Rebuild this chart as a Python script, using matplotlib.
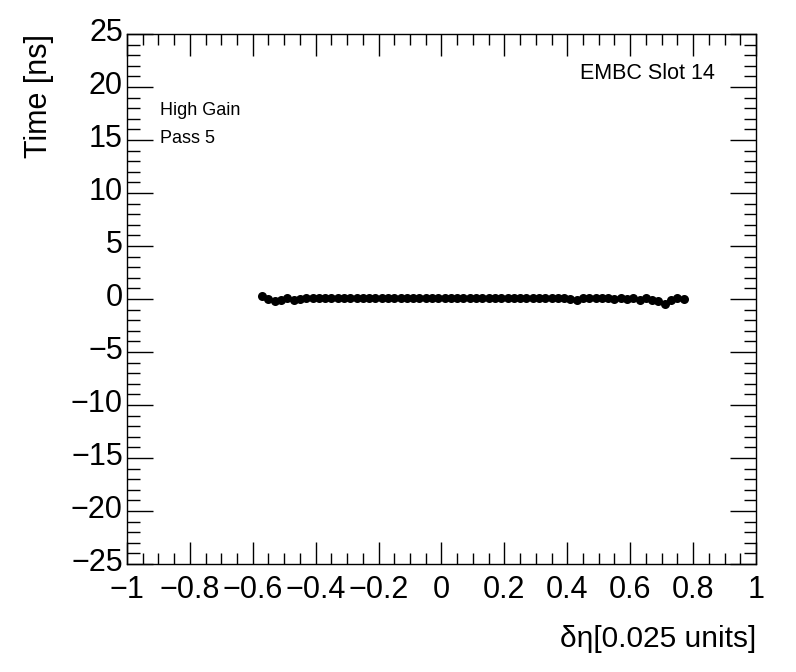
import matplotlib.pyplot as plt
import matplotlib.transforms as mtransforms
import numpy as np
from matplotlib.ticker import MultipleLocator

plt.rcParams['font.family'] = ['Liberation Sans', 'DejaVu Sans']

# bin centres (delta eta) and mean time per bin
eta = [-0.57, -0.55, -0.53, -0.51, -0.49, -0.47, -0.45, -0.43, -0.41, -0.39,
       -0.37, -0.35, -0.33, -0.31, -0.29, -0.27, -0.25, -0.23, -0.21, -0.19,
       -0.17, -0.15, -0.13, -0.11, -0.09, -0.07, -0.05, -0.03, -0.01, 0.01,
       0.03, 0.05, 0.07, 0.09, 0.11, 0.13, 0.15, 0.17, 0.19, 0.21,
       0.23, 0.25, 0.27, 0.29, 0.31, 0.33, 0.35, 0.37, 0.39, 0.41,
       0.43, 0.45, 0.47, 0.49, 0.51, 0.53, 0.55, 0.57, 0.59, 0.61,
       0.63, 0.65, 0.67, 0.69, 0.71, 0.73, 0.75, 0.77]
time = [0.3, 0.0, -0.2, -0.05, 0.05, -0.1, 0.0, 0.05, 0.05, 0.05,
        0.05, 0.05, 0.05, 0.05, 0.05, 0.05, 0.05, 0.05, 0.05, 0.05,
        0.05, 0.05, 0.05, 0.05, 0.05, 0.05, 0.05, 0.05, 0.05, 0.05,
        0.05, 0.05, 0.05, 0.05, 0.05, 0.05, 0.05, 0.05, 0.05, 0.05,
        0.05, 0.05, 0.05, 0.05, 0.05, 0.05, 0.05, 0.05, 0.05, 0.0,
        -0.05, 0.05, 0.1, 0.05, 0.05, 0.05, 0.0, 0.05, 0.0, 0.1,
        -0.05, 0.1, -0.1, -0.15, -0.5, -0.1, 0.1, 0.0]


def fmt(v, pos):
    s = f'{v:.1f}'
    if round(v, 3) == round(v):
        s = f'{int(round(v))}'
    return s.replace('-', '\u2212')


fig = plt.figure(figsize=(7.96, 6.72), dpi=100)
ax = fig.add_axes([0.1595, 0.1607, 0.7902, 0.7887])

ax.plot(eta, time, 'o', color='black', markersize=6.5, markeredgewidth=0)

ax.set_xlim(-1, 1)
ax.set_ylim(-25, 25)
ax.xaxis.set_major_locator(MultipleLocator(0.2))
ax.xaxis.set_minor_locator(MultipleLocator(0.05))
ax.yaxis.set_major_locator(MultipleLocator(5))
ax.yaxis.set_minor_locator(MultipleLocator(1))
ax.xaxis.set_major_formatter(plt.FuncFormatter(fmt))
ax.yaxis.set_major_formatter(plt.FuncFormatter(fmt))

ax.tick_params(which='both', direction='in', top=True, right=True, labelsize=22, width=1)
ax.tick_params(axis='x', which='major', length=16, pad=8)
ax.tick_params(axis='x', which='minor', length=8)
ax.tick_params(axis='y', which='major', length=19, pad=3)
ax.tick_params(axis='y', which='minor', length=9)
for s in ax.spines.values():
    s.set_linewidth(1)

# ROOT places y tick labels a little above the tick
shift = mtransforms.ScaledTranslation(0, 5 / 100, fig.dpi_scale_trans)
for lab in ax.get_yticklabels():
    lab.set_transform(lab.get_transform() + shift)

ax.set_xlabel('\u03b4\u03b7[0.025 units]', fontsize=21.5, loc='right', labelpad=14)
ax.set_ylabel('Time [ns]', fontsize=22, loc='top', labelpad=12)

ax.text(0.052, 0.856, 'High Gain', transform=ax.transAxes, fontsize=13, va='center')
ax.text(0.052, 0.803, 'Pass 5', transform=ax.transAxes, fontsize=13, va='center')
ax.text(0.935, 0.925, 'EMBC Slot 14', transform=ax.transAxes, fontsize=15.5, va='center', ha='right')

fig.savefig('out.png', dpi=100)
